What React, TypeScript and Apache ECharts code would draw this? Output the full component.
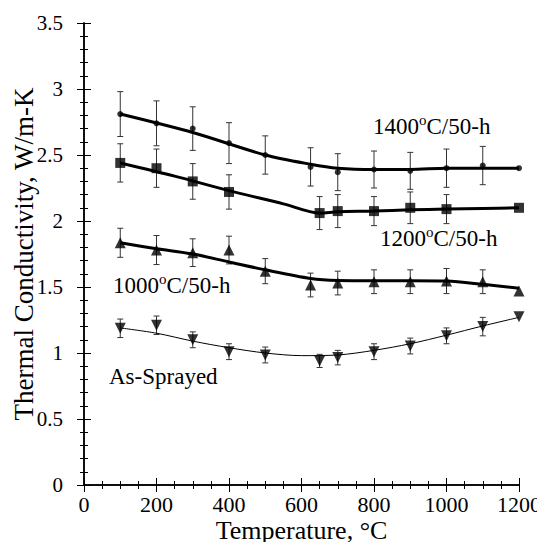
import React, { useEffect, useRef } from "react";
import * as echarts from "echarts";

// Measured data points (temperature °C, thermal conductivity W/m-K, ± error)
const temps1400 = [100, 200, 300, 400, 500, 625, 700, 800, 900, 1000, 1100, 1200];
const k1400 = [2.81, 2.74, 2.70, 2.59, 2.50, 2.41, 2.37, 2.39, 2.38, 2.40, 2.42, 2.40];
const err1400 = [0.17, 0.17, 0.165, 0.155, 0.145, 0.145, 0.14, 0.14, 0.14, 0.145, 0.145, 0];

const temps1200 = [100, 200, 300, 400, 650, 700, 800, 900, 1000, 1200];
const k1200 = [2.44, 2.40, 2.30, 2.22, 2.06, 2.075, 2.075, 2.10, 2.09, 2.10];
const err1200 = [0.145, 0.145, 0.135, 0.13, 0.125, 0.125, 0.11, 0.12, 0.11, 0];

const temps1000 = [100, 200, 300, 400, 500, 625, 700, 800, 900, 1000, 1100, 1200];
const k1000 = [1.835, 1.78, 1.76, 1.78, 1.62, 1.515, 1.53, 1.54, 1.54, 1.545, 1.54, 1.47];
const err1000 = [0.11, 0.11, 0.105, 0.105, 0.095, 0.09, 0.09, 0.09, 0.09, 0.095, 0.09, 0];

const tempsAs = [100, 200, 300, 400, 500, 650, 700, 800, 900, 1000, 1100, 1200];
const kAs = [1.187, 1.21, 1.10, 1.01, 0.985, 0.94, 0.965, 1.01, 1.053, 1.13, 1.20, 1.275];
const errAs = [0.07, 0.07, 0.06, 0.06, 0.06, 0.05, 0.055, 0.06, 0.06, 0.06, 0.07, 0];

// Fitted curves
const fitX1400 = [100, 300, 500, 625, 700, 800, 900, 1000, 1100, 1200];
const fitY1400 = [2.81, 2.67, 2.50, 2.43, 2.40, 2.39, 2.39, 2.40, 2.40, 2.40];
const fitX1200 = [100, 250, 400, 550, 650, 700, 800, 900, 1000, 1100, 1200];
const fitY1200 = [2.44, 2.34, 2.23, 2.13, 2.06, 2.07, 2.075, 2.085, 2.09, 2.095, 2.10];
const fitX1000 = [100, 200, 300, 400, 500, 625, 700, 800, 900, 1000, 1100, 1200];
const fitY1000 = [1.835, 1.79, 1.75, 1.69, 1.63, 1.565, 1.55, 1.548, 1.548, 1.545, 1.52, 1.49];
const fitXAs = [100, 200, 300, 400, 500, 600, 700, 800, 900, 1000, 1100, 1200];
const fitYAs = [1.19, 1.15, 1.09, 1.04, 1.0, 0.98, 0.985, 1.02, 1.07, 1.135, 1.205, 1.27];

const xTicks = [0, 200, 400, 600, 800, 1000, 1200];
const yTicks = [0, 0.5, 1, 1.5, 2, 2.5, 3, 3.5];

const FONT = "Liberation Serif";

const zip = (xs: number[], ys: number[]) => xs.map((x, i) => [x, ys[i]]);
const errData = (xs: number[], ys: number[], es: number[]) =>
  xs.map((x, i) => [x, ys[i] - es[i], ys[i] + es[i]]).filter((d, i) => es[i] > 0);

const errSeries = (data: number[][]) => ({
  type: "custom",
  data,
  z: 1,
  silent: true,
  renderItem: (params: any, api: any) => {
    const x = api.value(0);
    const lo = api.coord([x, api.value(1)]);
    const hi = api.coord([x, api.value(2)]);
    const hw = 3;
    const style = { stroke: "#333", lineWidth: 1 };
    return {
      type: "group",
      children: [
        { type: "line", shape: { x1: lo[0], y1: lo[1], x2: hi[0], y2: hi[1] }, style },
        { type: "line", shape: { x1: lo[0] - hw, y1: lo[1], x2: lo[0] + hw, y2: lo[1] }, style },
        { type: "line", shape: { x1: hi[0] - hw, y1: hi[1], x2: hi[0] + hw, y2: hi[1] }, style },
      ],
    };
  },
});

const fitSeries = (xs: number[], ys: number[], w: number) => ({
  type: "line",
  data: zip(xs, ys),
  smooth: 0.3,
  showSymbol: false,
  symbol: "none",
  z: 2,
  lineStyle: { color: "#000", width: w },
});

const pointSeries = (xs: number[], ys: number[], symbol: string, size: number, rotate = 0) => ({
  type: "scatter",
  data: zip(xs, ys),
  symbol,
  symbolSize: size,
  symbolRotate: rotate,
  z: 3,
  itemStyle: { color: "#000" },
});

const baseAxis = {
  axisLine: { show: true, lineStyle: { color: "#000", width: 1.5 } },
  axisTick: { show: true, inside: true, length: 7, lineStyle: { color: "#000", width: 1 } },
  minorTick: { show: true, length: 4, lineStyle: { color: "#000", width: 1 } },
  splitLine: { show: false },
};

const labelText = (text: string, x: number, y: number) => ({
  type: "text",
  x,
  y,
  style: {
    text,
    fontFamily: FONT,
    fontSize: 23,
    fill: "#000",
    textVerticalAlign: "middle",
    rich: {
      n: { fontSize: 23, fontFamily: FONT, fill: "#000" },
      s: { fontSize: 15, fontFamily: FONT, fill: "#000", verticalAlign: "top", padding: [0, 0, 12, 0] },
    },
  },
});

export default function App() {
  const ref = useRef<HTMLDivElement>(null);
  useEffect(() => {
    if (!ref.current) return;
    const chart = echarts.init(ref.current, null, { renderer: "svg" });
    chart.setOption({
      animation: false,
      backgroundColor: "#fff",
      textStyle: { fontFamily: FONT },
      grid: { left: 84, right: 26, top: 23, bottom: 65, containLabel: false, outerBoundsMode: "none" },
      xAxis: [
        {
          ...baseAxis,
          type: "value",
          min: 0,
          max: 1200,
          interval: 200,
          minorTick: { ...baseAxis.minorTick, splitNumber: 4 },
          axisLabel: {
            color: "#000",
            fontFamily: FONT,
            fontSize: 22,
            margin: 8,
            formatter: (v: number) => (xTicks.includes(v) ? "{t|" + v + "}" : ""),
            rich: { t: { fontFamily: FONT, fontSize: 22, color: "#000" } },
          },
          name: "Temperature, °C",
          nameLocation: "middle",
          nameGap: 32,
          nameMoveOverlap: false,
          nameTextStyle: { color: "#000", fontFamily: FONT, fontSize: 26 },
        },
        {
          ...baseAxis,
          type: "value",
          position: "top",
          min: 0,
          max: 1200,
          interval: 200,
          minorTick: { ...baseAxis.minorTick, splitNumber: 4 },
          axisLabel: { show: false },
        },
      ],
      yAxis: [
        {
          ...baseAxis,
          type: "value",
          min: 0,
          max: 3.5,
          interval: 0.5,
          minorTick: { ...baseAxis.minorTick, splitNumber: 5 },
          axisLabel: {
            color: "#000",
            fontFamily: FONT,
            fontSize: 21,
            margin: 21,
            formatter: (v: number) => (yTicks.includes(v) ? "{t|" + v + "}" : ""),
            rich: { t: { fontFamily: FONT, fontSize: 21, color: "#000" } },
          },
          name: "Thermal Conductivity, W/m-K",
          nameLocation: "middle",
          nameGap: 47,
          nameMoveOverlap: false,
          nameTextStyle: { color: "#000", fontFamily: FONT, fontSize: 27 },
        },
        {
          ...baseAxis,
          type: "value",
          position: "right",
          min: 0,
          max: 3.5,
          interval: 0.5,
          minorTick: { ...baseAxis.minorTick, splitNumber: 5 },
          axisLabel: { show: false },
        },
      ],
      series: [
        errSeries(errData(temps1400, k1400, err1400)),
        errSeries(errData(temps1200, k1200, err1200)),
        errSeries(errData(temps1000, k1000, err1000)),
        errSeries(errData(tempsAs, kAs, errAs)),
        fitSeries(fitX1400, fitY1400, 3),
        fitSeries(fitX1200, fitY1200, 3),
        fitSeries(fitX1000, fitY1000, 3),
        fitSeries(fitXAs, fitYAs, 1),
        pointSeries(temps1400, k1400, "circle", 6),
        pointSeries(temps1200, k1200, "rect", 10),
        pointSeries(temps1000, k1000, "triangle", 11),
        pointSeries(tempsAs, kAs, "triangle", 11, 180),
      ],
      graphic: [
        labelText("{n|1400}{s|o}{n|C/50-h}", 373, 126),
        labelText("{n|1200}{s|o}{n|C/50-h}", 380, 238),
        labelText("{n|1000}{s|o}{n|C/50-h}", 113, 285),
        labelText("{n|As-Sprayed}", 109, 376),
      ],
    });
    return () => chart.dispose();
  }, []);
  return <div ref={ref} style={{ width: 545, height: 550, margin: -8 }} />;
}
